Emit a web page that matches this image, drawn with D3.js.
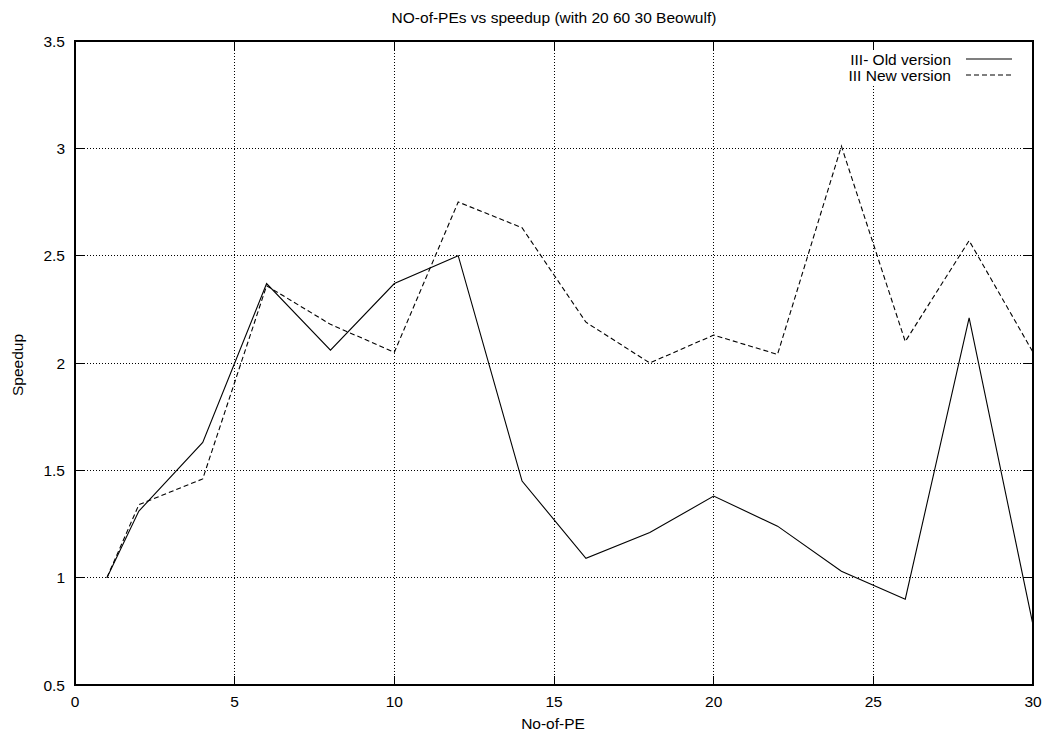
<!DOCTYPE html>
<html><head><meta charset="utf-8">
<script src="https://cdn.jsdelivr.net/npm/d3@7"></script>
<style>body{margin:0;background:#fff}text{font-family:"Liberation Sans",Arial,sans-serif;fill:#000}</style>
</head><body><svg id="c" width="1045" height="736"></svg>
<script>
const xs = [1,2,4,6,8,10,12,14,16,18,20,22,24,26,28,30];
const oldVersion = [1.00,1.31,1.63,2.37,2.06,2.37,2.50,1.45,1.09,1.21,1.38,1.24,1.03,0.90,2.21,0.78];
const newVersion = [1.00,1.34,1.46,2.36,2.18,2.05,2.75,2.63,2.19,2.00,2.13,2.04,3.01,2.10,2.57,2.05];
const xTicks = [0,5,10,15,20,25,30];
const yTicks = [0.5,1,1.5,2,2.5,3,3.5];
const seriesNames = ["III- Old version","III New version"];
const title = "NO-of-PEs vs speedup (with 20 60 30 Beowulf)";
const xLabel = "No-of-PE", yLabel = "Speedup";

const svg = d3.select("#c");
const L=75,R=1033,T=41,B=685;
const x = d3.scaleLinear().domain([0,30]).range([L,R]);
const y = d3.scaleLinear().domain([0.5,3.5]).range([B,T]);
const fs = "15.5px";

// grid
const g = svg.append("g");
g.selectAll(".gx").data(xTicks.slice(1,-1)).join("line")
  .attr("x1",d=>x(d)).attr("x2",d=>x(d)).attr("y1",T).attr("y2",B)
  .attr("stroke","#000").attr("stroke-width",1).attr("stroke-dasharray","1,2").attr("shape-rendering","crispEdges");
g.selectAll(".gy").data(yTicks.slice(1,-1)).join("line")
  .attr("y1",d=>y(d)).attr("y2",d=>y(d)).attr("x1",L).attr("x2",R)
  .attr("stroke","#000").attr("stroke-width",1).attr("stroke-dasharray","1,2").attr("shape-rendering","crispEdges");
// legend background
svg.append("rect").attr("x",840).attr("y",48).attr("width",185).attr("height",36).attr("fill","#fff");

// ticks (inward on all sides)
const tk = 9;
xTicks.forEach(d=>{
  svg.append("line").attr("x1",x(d)).attr("x2",x(d)).attr("y1",B).attr("y2",B-tk).attr("stroke","#000").attr("shape-rendering","crispEdges");
  svg.append("line").attr("x1",x(d)).attr("x2",x(d)).attr("y1",T).attr("y2",T+tk).attr("stroke","#000").attr("shape-rendering","crispEdges");
  svg.append("text").attr("x",x(d)).attr("y",B+22).attr("text-anchor","middle").style("font-size",fs).text(d);
});
yTicks.forEach(d=>{
  svg.append("line").attr("x1",L).attr("x2",L+tk).attr("y1",y(d)).attr("y2",y(d)).attr("stroke","#000").attr("shape-rendering","crispEdges");
  svg.append("line").attr("x1",R).attr("x2",R-tk).attr("y1",y(d)).attr("y2",y(d)).attr("stroke","#000").attr("shape-rendering","crispEdges");
  svg.append("text").attr("x",L-10).attr("y",y(d)+5.5).attr("text-anchor","end").style("font-size",fs).text(d);
});

// lines
const line = d3.line().x((d,i)=>x(xs[i])).y(d=>y(d));
svg.append("path").datum(oldVersion).attr("d",line).attr("fill","none").attr("stroke","#000").attr("stroke-width",1.1);
svg.append("path").datum(newVersion).attr("d",line).attr("fill","none").attr("stroke","#000").attr("stroke-width",1.1).attr("stroke-dasharray","5,3");

// frame
svg.append("rect").attr("x",L).attr("y",T).attr("width",R-L).attr("height",B-T).attr("fill","none").attr("stroke","#000").attr("stroke-width",2);

// legend
const ly=[59,75], dashes=[null,"5,3"];
seriesNames.forEach((n,i)=>{
  svg.append("text").attr("x",951).attr("y",ly[i]+5.5).attr("text-anchor","end").style("font-size",fs).text(n);
  svg.append("line").attr("x1",966).attr("x2",1012).attr("y1",ly[i]).attr("y2",ly[i]).attr("stroke","#000").attr("stroke-width",1.1).attr("stroke-dasharray",dashes[i]);
});

// titles
svg.append("text").attr("x",554).attr("y",23).attr("text-anchor","middle").style("font-size",fs).text(title);
svg.append("text").attr("x",553).attr("y",729).attr("text-anchor","middle").style("font-size",fs).text(xLabel);
svg.append("text").attr("transform","translate(23,365) rotate(-90)").attr("text-anchor","middle").style("font-size",fs).text(yLabel);
</script></body></html>
